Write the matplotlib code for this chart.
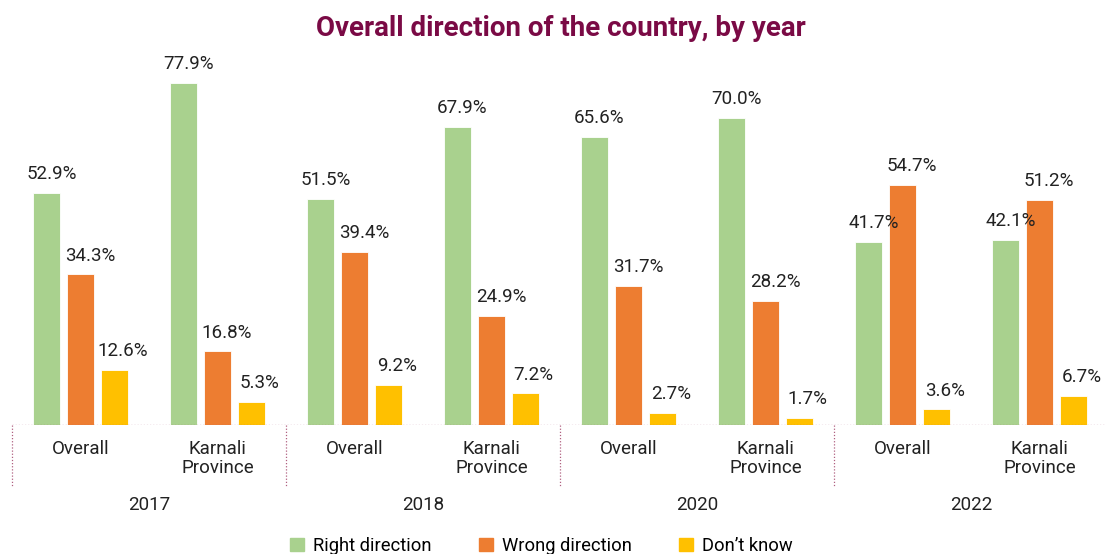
import numpy as np
import matplotlib.pyplot as plt
from matplotlib.patches import Patch

# Data
years = ['2017', '2018', '2020', '2022']
groups = ['Overall', 'Karnali\nProvince'] * 4
right = [52.9, 77.9, 51.5, 67.9, 65.6, 70.0, 41.7, 42.1]
wrong = [34.3, 16.8, 39.4, 24.9, 31.7, 28.2, 54.7, 51.2]
dont_know = [12.6, 5.3, 9.2, 7.2, 2.7, 1.7, 3.6, 6.7]

series = [('Right direction', right, '#a9d18e'),
          ('Wrong direction', wrong, '#ed7d31'),
          ("Don\u2019t know", dont_know, '#ffc000')]

plt.rcParams['font.family'] = ['Roboto', 'DejaVu Sans']

fig = plt.figure(figsize=(11.05, 5.54), dpi=100)
ax = fig.add_axes([12 / 1105, 129 / 554, 1096 / 1105, 365 / 554])

x = np.arange(len(groups))
width = 0.204
step = 0.248
line_col = '#b06080'
txt_col = '#222222'
label_shift = [0.035, 0.07, 0.06]  # labels sit a bit right of bar centres

for i, (name, vals, col) in enumerate(series):
    pos = x + (i - 1) * step
    ax.bar(pos, vals, width=width, color=col, edgecolor='white', linewidth=0.6, label=name)
    for p, v in zip(pos, vals):
        ax.text(p + label_shift[i], v + 2.2, f'{v:.1f}%', ha='center', va='bottom', fontsize=13.5,
                color=txt_col, clip_on=False)

ax.set_xlim(-0.5, 7.5)
ax.set_ylim(0, 83.1)
ax.set_xticks([])
ax.set_yticks([])
for s in ax.spines.values():
    s.set_visible(False)

# dotted baseline
ax.axhline(0, color=line_col, linestyle=(0, (1, 1.5)), linewidth=0.9)

# category labels
for xi, g in zip(x, groups):
    ax.text(xi, -3.4, g, ha='center', va='top', fontsize=13.5, color=txt_col, linespacing=1.05)

# year labels and separators
for k, yr in enumerate(years):
    ax.text(2 * k + 0.5, -18.3, yr, ha='center', va='center', fontsize=13.5, color=txt_col)
for k in range(5):
    ax.plot([2 * k - 0.5, 2 * k - 0.5], [0, -14.1], color=line_col, linestyle=(0, (1, 1.5)),
            linewidth=0.9, clip_on=False)

fig.text(0.508, 1 - 28 / 554, 'Overall direction of the country, by year', ha='center', va='center',
         fontsize=20, fontweight='bold', color='#7a0a45')

handles = [Patch(color=c, label=n) for n, _, c in series]
fig.legend(handles=handles, loc='center', bbox_to_anchor=(0.490, 0.015), ncol=3, frameon=False,
           fontsize=13.2, handlelength=0.75, handleheight=0.75, handletextpad=0.5, columnspacing=2.6)

fig.savefig('out.png', dpi=100)
